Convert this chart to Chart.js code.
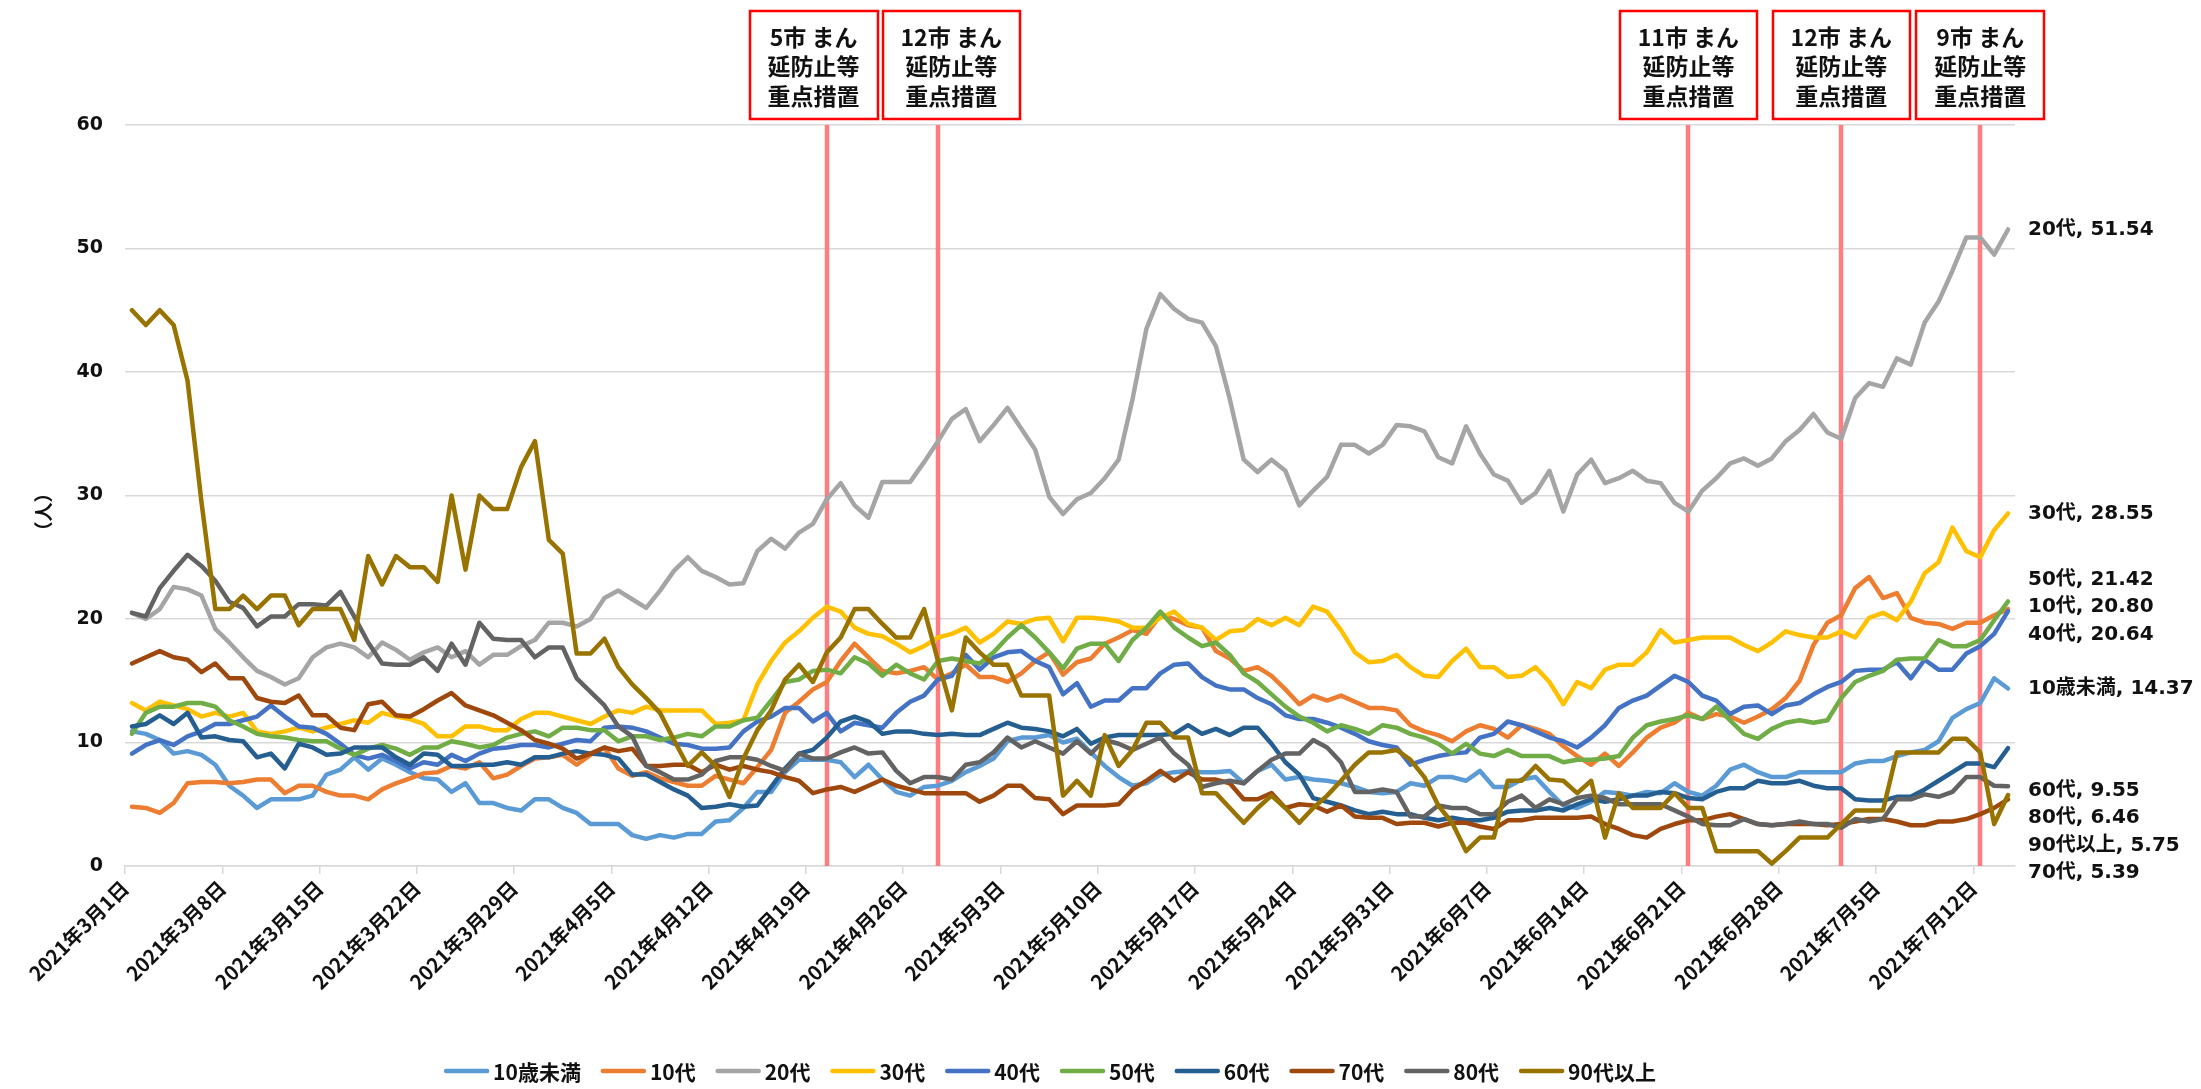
<!DOCTYPE html>
<html>
<head>
<meta charset="utf-8">
<script src="https://cdn.jsdelivr.net/npm/chart.js@4.4.1/dist/chart.umd.min.js"></script>
<style>
html,body{margin:0;padding:0;background:#ffffff;}
#wrap{width:2201px;height:1089px;position:relative;}
</style>
</head>
<body>
<div id="wrap"><canvas id="c" width="2201" height="1089"></canvas></div>
<script>
// ---------------- data ----------------
const startDate = '2021-03-01';
const seriesNames = ['10歳未満','10代','20代','30代','40代','50代','60代','70代','80代','90代以上'];
const tickLabels = ['2021年3月1日','2021年3月8日','2021年3月15日','2021年3月22日','2021年3月29日',
  '2021年4月5日','2021年4月12日','2021年4月19日','2021年4月26日','2021年5月3日','2021年5月10日',
  '2021年5月17日','2021年5月24日','2021年5月31日','2021年6月7日','2021年6月14日','2021年6月21日',
  '2021年6月28日','2021年7月5日','2021年7月12日'];
const yTitle = '（人）';

const under10 = [10.9,10.7,10.2,9.1,9.3,9.0,8.2,6.5,5.7,4.7,5.4,5.4,5.4,5.7,7.4,7.8,8.8,7.8,8.7,8.2,7.6,7.1,7.0,
  6.0,6.7,5.1,5.1,4.7,4.5,5.4,5.4,4.7,4.3,3.4,3.4,3.4,2.5,2.2,2.5,2.3,2.6,2.6,3.6,3.7,4.7,6.0,
  6.0,7.6,8.6,8.6,8.6,8.4,7.2,8.2,7.0,6.0,5.7,6.4,6.5,6.9,7.6,8.1,8.7,10.1,10.4,10.4,10.6,
  10.0,10.3,
  9.2,8.1,7.2,6.5,6.7,7.4,7.6,7.7,7.6,7.6,7.7,6.7,7.7,8.2,7.0,7.2,7.0,6.9,6.7,6.4,6.0,5.9,
  6.0,6.7,6.5,7.2,7.2,6.9,7.7,6.4,6.4,7.0,7.2,6.0,4.9,4.7,5.2,6.0,5.9,5.7,6.0,5.9,6.7,6.0,5.7,
  6.5,7.8,8.2,7.6,7.2,7.2,7.6,7.6,7.6,7.6,8.3,8.5,8.5,8.9,9.2,9.4,10.1,12.0,12.7,13.2,15.2,14.37];
const teens = [4.8,4.7,4.3,5.1,6.7,6.8,6.8,6.7,6.8,7.0,7.0,5.9,6.5,6.5,6.0,5.7,5.7,5.4,6.2,6.7,7.1,7.5,7.6,
  8.1,7.9,8.4,7.1,7.4,8.1,8.7,8.8,9.0,8.2,9.0,9.6,7.9,7.3,7.6,7.1,6.8,6.5,6.5,7.3,7.0,6.7,8.0,
  9.4,12.4,13.3,14.3,14.9,16.6,18.0,16.9,15.8,15.6,15.8,16.1,15.1,15.6,16.3,15.3,15.3,14.9,15.6,16.6,17.3,
  15.5,16.5,
  16.8,18.0,18.5,19.1,18.8,20.3,20.0,19.5,19.3,17.4,16.8,15.8,16.1,15.4,14.3,13.1,13.8,13.4,13.8,13.3,12.8,12.8,
  12.6,11.4,10.9,10.6,10.1,10.9,11.4,11.1,10.4,11.4,11.1,10.7,9.7,8.9,8.2,9.1,8.1,9.2,10.4,11.2,11.6,12.4,11.9,
  12.3,12.1,11.6,12.1,12.7,13.6,15.0,17.9,19.7,20.3,22.5,23.4,21.7,22.1,20.1,19.7,19.6,19.2,19.7,19.7,20.3,20.80];
const twenties = [20.5,20.0,20.8,22.6,22.4,21.9,19.2,18.1,16.9,15.8,15.3,14.7,15.2,16.9,17.7,18.0,17.7,16.9,18.1,17.5,16.7,17.3,17.7,
  16.9,17.4,16.3,17.1,17.1,17.8,18.3,19.7,19.7,19.4,20.0,21.7,22.3,21.6,20.9,22.3,23.9,25.0,23.9,23.4,22.8,22.9,25.5,
  26.5,25.7,27.0,27.7,29.7,31.0,29.2,28.2,31.1,31.1,31.1,32.7,34.4,36.2,37.0,34.4,35.7,37.1,35.4,33.7,29.9,
  28.5,29.7,
  30.2,31.4,32.9,37.8,43.5,46.3,45.1,44.3,44.0,42.1,37.8,32.9,31.9,32.9,32.0,29.2,30.4,31.5,34.1,34.1,33.4,34.1,
  35.7,35.6,35.2,33.1,32.6,35.6,33.4,31.7,31.2,29.4,30.2,32.0,28.7,31.7,32.9,31.0,31.4,32.0,31.2,31.0,29.4,28.7,30.4,
  31.4,32.6,33.0,32.4,33.0,34.4,35.3,36.6,35.1,34.6,37.9,39.1,38.8,41.1,40.6,44.0,45.7,48.2,50.9,50.9,49.5,51.54];
const thirties = [13.2,12.6,13.3,13.0,12.7,12.1,12.4,12.1,12.4,10.9,10.7,10.9,11.2,10.9,11.2,11.5,11.8,11.6,12.4,12.1,11.9,11.5,10.5,
  10.5,11.3,11.3,11.0,11.0,11.9,12.4,12.4,12.1,11.8,11.5,12.1,12.6,12.4,12.9,12.6,12.6,12.6,12.6,11.5,11.6,11.8,14.7,
  16.6,18.1,19.0,20.1,21.0,20.6,19.3,18.8,18.6,18.0,17.3,17.8,18.5,18.8,19.3,18.1,18.8,19.8,19.6,20.0,20.1,
  18.2,20.1,
  20.1,20.0,19.8,19.3,19.3,20.1,20.6,19.6,19.3,18.3,19.0,19.1,20.0,19.5,20.1,19.5,21.0,20.6,19.1,17.3,16.5,16.6,
  17.1,16.1,15.4,15.3,16.6,17.6,16.1,16.1,15.3,15.4,16.1,14.9,13.1,14.9,14.4,15.9,16.3,16.3,17.3,19.1,18.1,18.3,18.5,
  18.5,18.5,17.9,17.4,18.1,19.0,18.7,18.5,18.5,19.0,18.5,20.1,20.5,19.9,21.4,23.7,24.6,27.4,25.5,25.0,27.2,28.55];
const forties = [9.1,9.8,10.2,9.8,10.5,10.9,11.5,11.5,11.8,12.1,13.0,12.1,11.3,11.2,10.7,9.9,9.0,8.7,9.0,8.5,7.9,8.4,8.2,
  9.0,8.5,9.1,9.5,9.6,9.8,9.8,9.6,9.9,10.2,10.1,11.2,11.3,11.2,10.9,10.4,9.9,9.8,9.5,9.5,9.6,10.9,11.7,
  12.1,12.8,12.8,11.7,12.4,10.9,11.6,11.4,11.2,12.4,13.3,13.8,15.1,15.4,17.1,15.9,16.9,17.3,17.4,16.6,16.1,
  13.9,14.8,
  12.9,13.4,13.4,14.4,14.4,15.6,16.3,16.4,15.3,14.6,14.3,14.3,13.6,13.1,12.2,11.9,11.9,11.6,11.2,10.7,10.1,9.8,
  9.6,8.2,8.6,8.9,9.1,9.2,10.4,10.7,11.7,11.4,10.9,10.4,10.1,9.6,10.4,11.4,12.8,13.4,13.8,14.6,15.4,14.9,13.8,
  13.4,12.3,12.9,13.0,12.3,13.0,13.2,13.9,14.5,14.9,15.8,15.9,15.9,16.5,15.2,16.7,15.9,15.9,17.2,17.8,18.8,20.64];
const fifties = [10.7,12.4,12.9,12.9,13.2,13.2,12.9,11.8,11.3,10.7,10.5,10.4,10.2,10.1,10.1,9.5,9.0,9.5,9.8,9.5,9.0,9.6,9.6,
  10.1,9.9,9.6,9.8,10.4,10.7,10.9,10.5,11.2,11.2,11.0,11.0,10.1,10.5,10.5,10.2,10.4,10.7,10.5,11.3,11.3,11.8,12.0,
  13.4,14.9,15.1,15.8,15.9,15.6,16.9,16.4,15.4,16.3,15.6,15.1,16.6,16.8,16.6,16.4,17.3,18.5,19.5,18.5,17.3,
  16.0,17.6,
  18.0,18.0,16.6,18.3,19.3,20.6,19.3,18.5,17.8,18.1,17.1,15.6,14.9,13.9,12.9,12.1,11.6,10.9,11.4,11.1,10.7,11.4,
  11.2,10.7,10.4,9.9,9.1,9.9,9.1,8.9,9.4,8.9,8.9,8.9,8.4,8.6,8.6,8.7,8.9,10.4,11.4,11.7,11.9,12.2,11.9,
  12.9,11.8,10.7,10.3,11.1,11.6,11.8,11.6,11.8,13.6,14.9,15.4,15.8,16.7,16.8,16.8,18.3,17.8,17.8,18.3,19.9,21.42];
const sixties = [11.3,11.5,12.2,11.5,12.4,10.4,10.5,10.2,10.1,8.8,9.1,7.9,9.9,9.6,9.0,9.1,9.6,9.6,9.6,8.8,8.2,9.1,9.0,
  8.1,8.1,8.2,8.2,8.4,8.2,8.8,8.8,9.1,9.3,9.1,9.0,8.7,7.4,7.4,6.8,6.2,5.7,4.7,4.8,5.0,4.8,4.9,
  6.4,7.9,9.1,9.4,10.4,11.7,12.1,11.7,10.7,10.9,10.9,10.7,10.6,10.7,10.6,10.6,11.1,11.6,11.2,11.1,10.9,
  10.5,11.1,
  9.9,10.4,10.6,10.6,10.6,10.6,10.7,11.4,10.7,11.1,10.6,11.2,11.2,9.9,8.4,7.4,5.5,5.2,4.9,4.5,4.2,4.4,
  4.2,4.2,3.9,3.7,3.9,3.7,3.7,3.9,4.4,4.5,4.5,4.7,4.5,5.0,5.4,5.2,5.4,5.7,5.7,6.0,5.9,5.5,5.4,
  6.0,6.3,6.3,6.9,6.7,6.7,6.9,6.5,6.3,6.3,5.4,5.3,5.3,5.6,5.6,6.2,6.9,7.6,8.3,8.3,8.0,9.55];
const seventies = [16.4,16.9,17.4,16.9,16.7,15.7,16.4,15.2,15.2,13.6,13.3,13.2,13.8,12.2,12.2,11.2,11.0,13.1,13.3,12.2,12.1,12.7,13.4,
  14.0,13.0,12.6,12.2,11.6,11.0,10.2,9.9,9.5,8.7,9.1,9.6,9.3,9.5,8.1,8.1,8.2,8.2,7.6,8.2,7.8,8.1,7.8,
  7.6,7.2,6.9,5.9,6.2,6.4,6.0,6.5,7.0,6.5,6.2,5.9,5.9,5.9,5.9,5.2,5.7,6.5,6.5,5.5,5.4,
  4.2,4.9,
  4.9,4.9,5.0,6.2,6.9,7.7,6.9,7.6,7.0,7.0,6.7,5.4,5.4,5.9,4.7,5.0,4.9,4.4,4.9,4.0,3.9,3.9,
  3.4,3.5,3.5,3.2,3.5,3.5,3.2,3.0,3.7,3.7,3.9,3.9,3.9,3.9,4.0,3.4,3.0,2.5,2.3,3.0,3.4,3.7,3.7,
  4.0,4.2,3.8,3.4,3.3,3.4,3.4,3.4,3.3,3.4,3.6,3.8,3.8,3.6,3.3,3.3,3.6,3.6,3.8,4.2,4.7,5.39];
const eighties = [20.5,20.2,22.5,23.9,25.2,24.3,23.1,21.4,20.9,19.4,20.2,20.2,21.2,21.2,21.1,22.2,20.2,18.1,16.4,16.3,16.3,16.9,15.8,
  18.0,16.3,19.7,18.4,18.3,18.3,16.9,17.7,17.7,15.2,14.1,13.0,11.3,10.5,8.1,7.6,7.0,7.0,7.4,8.5,8.8,8.8,8.6,
  8.1,7.7,9.1,8.7,8.7,9.2,9.6,9.1,9.2,7.7,6.7,7.2,7.2,7.0,8.2,8.4,9.2,10.4,9.6,10.1,9.6,
  9.1,10.1,
  9.1,10.2,9.9,9.4,9.9,10.4,9.1,8.2,6.4,6.7,6.9,6.7,7.7,8.6,9.1,9.1,10.2,9.6,8.4,6.0,6.0,6.2,
  6.0,4.0,4.0,4.9,4.7,4.7,4.2,4.2,5.2,5.7,4.7,5.4,5.0,5.5,5.7,5.5,5.0,5.0,5.0,5.0,4.5,4.0,3.4,
  3.3,3.3,3.8,3.4,3.3,3.4,3.6,3.4,3.4,3.1,3.8,3.6,3.8,5.4,5.4,5.8,5.6,6.0,7.2,7.2,6.5,6.46];
const over90 = [45.0,43.8,45.0,43.8,39.3,29.5,20.8,20.8,21.9,20.8,21.9,21.9,19.5,20.8,20.8,20.8,18.3,25.1,22.8,25.1,24.2,24.2,23.0,
  30.0,24.0,30.0,28.9,28.9,32.3,34.4,26.4,25.3,17.2,17.2,18.4,16.1,14.7,13.6,12.4,10.2,8.1,9.2,8.1,5.6,8.7,11.0,
  12.6,15.1,16.3,14.9,17.3,18.5,20.8,20.8,19.6,18.5,18.5,20.8,16.6,12.6,18.5,17.3,16.3,16.3,13.8,13.8,13.8,
  5.7,6.9,
  5.7,10.6,8.1,9.4,11.6,11.6,10.4,10.4,5.9,5.9,4.7,3.5,4.7,5.7,4.7,3.5,4.7,5.7,6.9,8.2,9.2,9.2,
  9.4,8.6,7.2,4.9,3.5,1.2,2.3,2.3,6.9,6.9,8.1,7.0,6.9,5.9,6.9,2.3,5.9,4.7,4.7,4.7,5.9,4.7,4.7,
  1.2,1.2,1.2,1.2,0.2,1.2,2.3,2.3,2.3,3.4,4.5,4.5,4.5,9.2,9.2,9.2,9.2,10.3,10.3,9.2,3.4,5.75];

const eventDates = ['2021-04-20','2021-04-28','2021-06-21','2021-07-02','2021-07-12'];
const eventTexts = [
  ['5市 まん','延防止等','重点措置'],
  ['12市 まん','延防止等','重点措置'],
  ['11市 まん','延防止等','重点措置'],
  ['12市 まん','延防止等','重点措置'],
  ['9市 まん','延防止等','重点措置']
];

// ---------------- styles ----------------
const series = [under10, teens, twenties, thirties, forties, fifties, sixties, seventies, eighties, over90];
const colors = ['#5B9BD5','#ED7D31','#A5A5A5','#FFC000','#4472C4','#70AD47','#255E91','#9E480E','#636363','#997300'];
const N = series[0].length;
series.forEach((s,i)=>{ if (s.length !== N) console.error('length mismatch', seriesNames[i], s.length); });

const JP = '"Noto Sans CJK JP", "Noto Sans", sans-serif';
const NUMF = '"DejaVu Sans", "Noto Sans CJK JP", sans-serif';

function dayIndex(iso) {
  const [y,m,d] = iso.split('-').map(Number);
  const [y0,m0,d0] = startDate.split('-').map(Number);
  return Math.round((Date.UTC(y,m-1,d) - Date.UTC(y0,m0-1,d0)) / 86400000);
}

const overlay = {
  id: 'overlay',
  beforeDatasetsDraw(chart) {
    const {ctx, chartArea, scales} = chart;
    ctx.save();
    ctx.strokeStyle = '#FF7C80';
    ctx.lineWidth = 4.5;
    eventDates.forEach(dt => {
      const px = Math.round(scales.x.getPixelForValue(dayIndex(dt)));
      ctx.beginPath();
      ctx.moveTo(px, chartArea.top);
      ctx.lineTo(px, chartArea.bottom);
      ctx.stroke();
    });
    ctx.restore();
  },
  afterDraw(chart) {
    const {ctx, chartArea, scales} = chart;
    const xs = scales.x, ys = scales.y;
    ctx.save();

    // ---- event boxes ----
    ctx.font = 'bold 23px ' + JP;
    const boxes = eventDates.map((dt, i) => {
      const cx = xs.getPixelForValue(dayIndex(dt));
      const w = Math.max(...eventTexts[i].map(t => ctx.measureText(t).width)) + 36;
      return {cx, w, lines: eventTexts[i]};
    });
    const gap = 5;
    for (let iter = 0; iter < 20; iter++) {
      let moved = false;
      for (let i = 0; i < boxes.length - 1; i++) {
        const a = boxes[i], b = boxes[i+1];
        const over = (a.cx + a.w/2 + gap) - (b.cx - b.w/2);
        if (over > 0.5) { a.cx -= over/2; b.cx += over/2; moved = true; }
      }
      if (!moved) break;
    }
    const boxTop = 11, boxH = 108;
    boxes.forEach(b => {
      const x0 = Math.round(b.cx - b.w/2);
      ctx.fillStyle = '#ffffff';
      ctx.fillRect(x0, boxTop, Math.round(b.w), boxH);
      ctx.strokeStyle = '#FF0000';
      ctx.lineWidth = 2.5;
      ctx.strokeRect(x0, boxTop, Math.round(b.w), boxH);
      ctx.fillStyle = '#111111';
      ctx.textAlign = 'center';
      ctx.textBaseline = 'middle';
      b.lines.forEach((t, k) => ctx.fillText(t, b.cx, boxTop + 26 + k * 29.5));
    });

    // ---- end labels (clustered to avoid overlap) ----
    const labels = series.map((s, i) => {
      const v = s[s.length - 1];
      return {text: seriesNames[i] + ', ' + v.toFixed(2), y0: ys.getPixelForValue(v)};
    }).sort((a, b) => a.y0 - b.y0);
    const lg = 27.5;
    let clusters = labels.map(l => ({items: [l], c: l.y0}));
    const place = cl => { const n = cl.items.length; cl.items.forEach((it, k) => it.y = cl.c + (k - (n-1)/2) * lg); };
    clusters.forEach(place);
    let merged = true;
    while (merged) {
      merged = false;
      for (let i = 0; i < clusters.length - 1; i++) {
        const a = clusters[i], b = clusters[i+1];
        const aBottom = a.items[a.items.length-1].y, bTop = b.items[0].y;
        if (bTop - aBottom < lg) {
          const items = a.items.concat(b.items);
          const c = items.reduce((s, it) => s + it.y0, 0) / items.length;
          const nc = {items, c};
          place(nc);
          clusters.splice(i, 2, nc);
          merged = true;
          break;
        }
      }
    }
    // lowest stacked group hangs down to the axis line
    const last = clusters[clusters.length - 1];
    if (last.items.length > 1) {
      const n = last.items.length;
      last.items.forEach((it, k) => it.y = chartArea.bottom + 7 - (n - 1 - k) * lg);
    }
    ctx.font = 'bold 20px ' + NUMF;
    ctx.fillStyle = '#111111';
    ctx.textAlign = 'left';
    ctx.textBaseline = 'middle';
    labels.forEach(l => ctx.fillText(l.text, chartArea.right + 13, l.y));

    // ---- y title ----
    ctx.save();
    ctx.translate(44, 512);
    ctx.rotate(-Math.PI / 2);
    ctx.font = 'bold 19px ' + JP;
    ctx.textAlign = 'center';
    ctx.textBaseline = 'middle';
    ctx.fillText(yTitle, 0, 0);
    ctx.restore();

    // ---- legend ----
    ctx.font = 'bold 21px ' + JP;
    const sample = 45, sGap = 4, iGap = 20;
    const widths = seriesNames.map(n => sample + sGap + ctx.measureText(n).width);
    const total = widths.reduce((a, b) => a + b, 0) + iGap * (widths.length - 1);
    let lx = 1050 - total / 2;
    const ly = 1071;
    seriesNames.forEach((n, i) => {
      ctx.strokeStyle = colors[i];
      ctx.lineWidth = 4.5;
      ctx.lineCap = 'round';
      ctx.beginPath();
      ctx.moveTo(lx + 2, ly);
      ctx.lineTo(lx + sample - 2, ly);
      ctx.stroke();
      ctx.fillStyle = '#111111';
      ctx.textAlign = 'left';
      ctx.textBaseline = 'middle';
      ctx.fillText(n, lx + sample + sGap, ly + 1);
      lx += widths[i] + iGap;
    });
    ctx.restore();
  }
};

const datasets = series.map((arr, i) => ({
  label: seriesNames[i],
  data: arr.map((v, j) => ({x: j, y: v})),
  borderColor: colors[i],
  backgroundColor: colors[i],
  borderWidth: 4.5,
  pointRadius: 0,
  pointHoverRadius: 0,
  tension: 0,
  fill: false,
  borderJoinStyle: 'round',
  borderCapStyle: 'round',
  order: series.length - i
}));

new Chart(document.getElementById('c'), {
  type: 'line',
  data: {datasets},
  options: {
    responsive: false,
    animation: false,
    devicePixelRatio: 1,
    layout: {padding: {top: 125, right: 186, left: 0, bottom: 0}},
    plugins: {legend: {display: false}, tooltip: {enabled: false}},
    scales: {
      x: {
        type: 'linear',
        min: -0.5,
        max: N - 0.5,
        afterBuildTicks: s => { s.ticks = tickLabels.map((_, k) => ({value: k * 7 - 0.5})); },
        afterFit: s => { s.height = 223; },
        ticks: {
          autoSkip: false, maxRotation: 45, minRotation: 45, padding: 2,
          color: '#111111',
          font: {family: JP, size: 20, weight: 'bold'},
          callback: (v, i) => tickLabels[i]
        },
        grid: {display: true, drawOnChartArea: false, drawTicks: true, tickLength: 8, color: '#d9d9d9', lineWidth: 1.5},
        border: {display: true, color: '#d9d9d9', width: 1.5}
      },
      y: {
        min: 0, max: 60,
        afterFit: s => { s.width = 125; },
        ticks: {stepSize: 10, padding: 22, color: '#111111', font: {family: NUMF, size: 19, weight: 'bold'}},
        grid: {color: '#d9d9d9', lineWidth: 1.5, drawTicks: false},
        border: {display: false}
      }
    }
  },
  plugins: [overlay]
});
</script>
</body>
</html>
